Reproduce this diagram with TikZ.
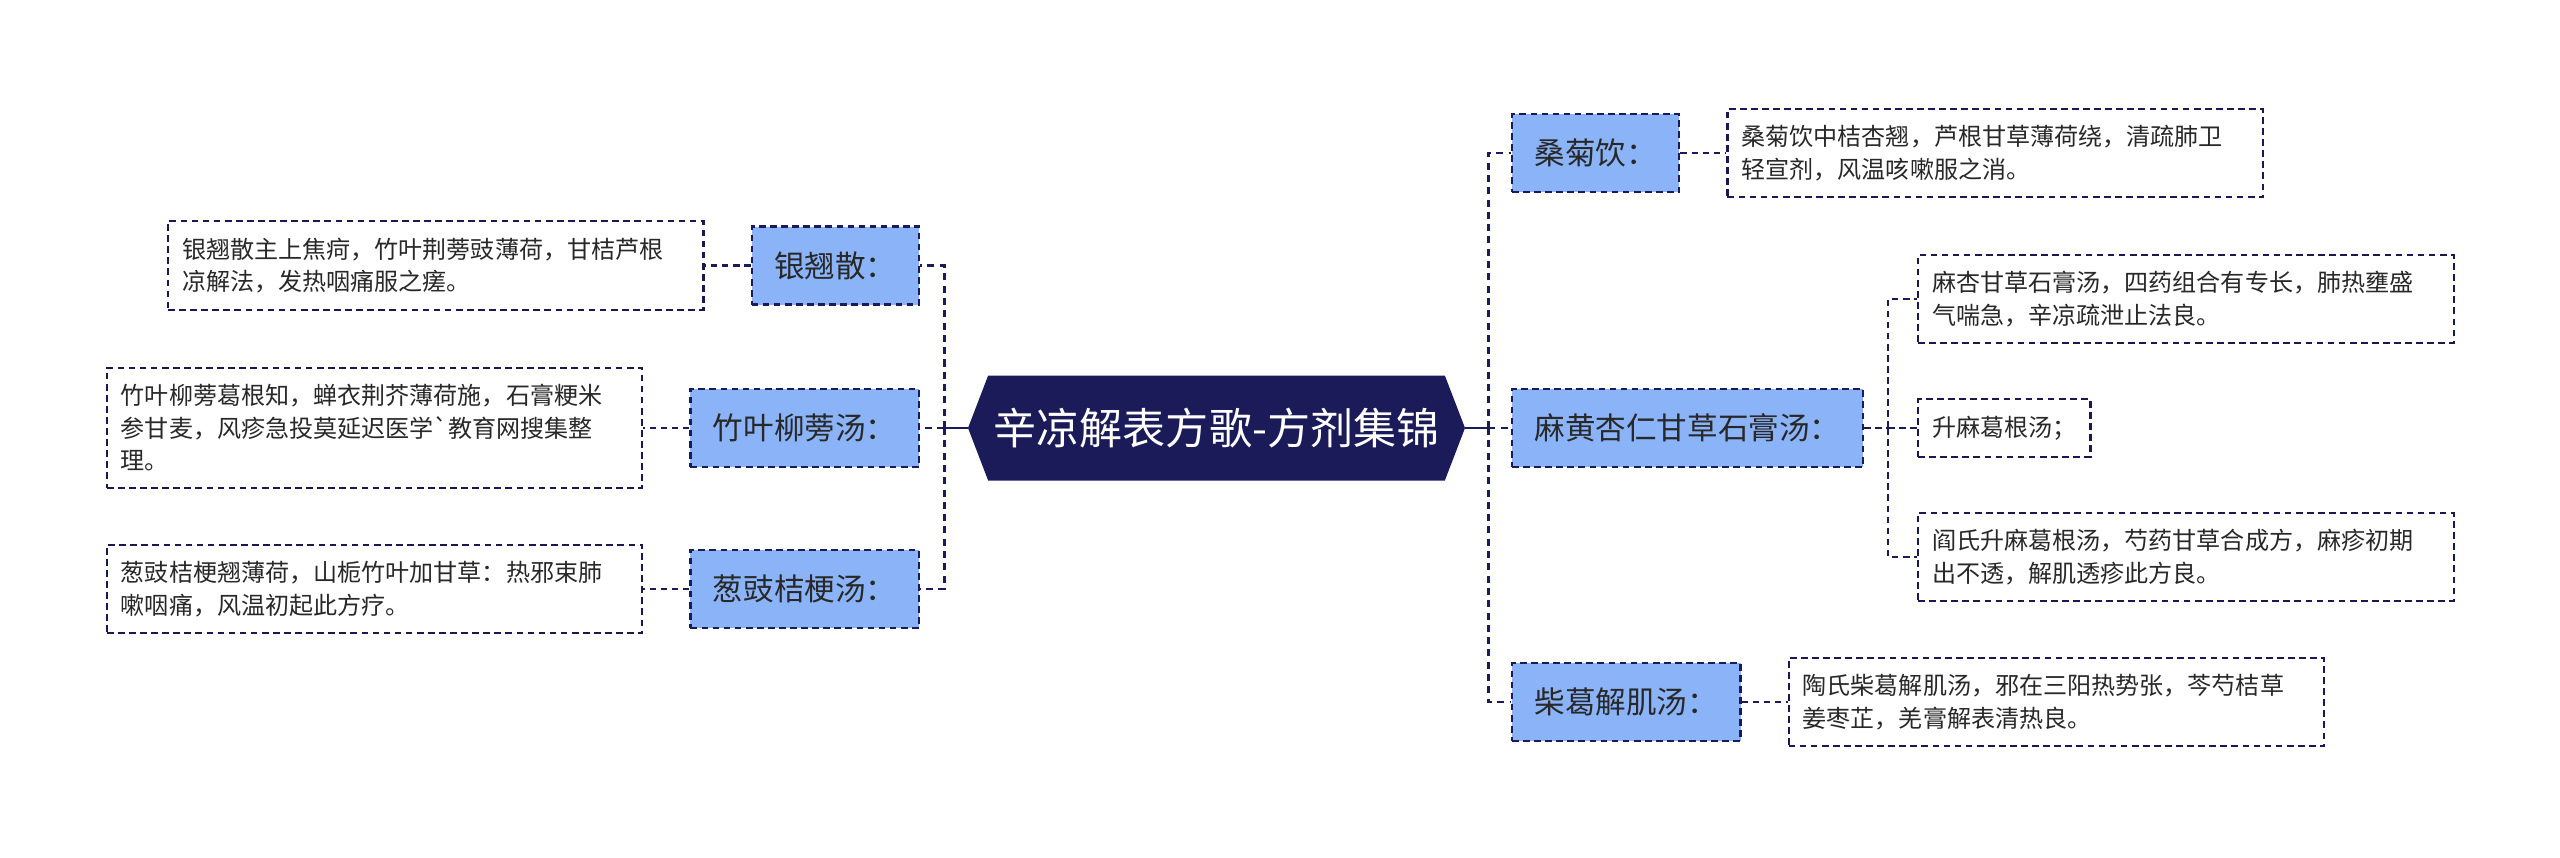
\documentclass[tikz,border=0pt]{standalone}
\usepackage{fontspec}
\setmainfont{Noto Sans CJK SC}
\usepackage{xcolor}
\usepackage{tikz}
\usetikzlibrary{shapes, positioning}

\definecolor{deepnavy}{RGB}{28,27,89}
\definecolor{topicblue}{RGB}{139,180,248}
\definecolor{notetext}{RGB}{40,40,40}

\begin{document}
\begin{tikzpicture}[
    node distance=0.92cm,
    root/.style={signal, signal to=east and west, signal pointer angle=138, fill=deepnavy, text=white, minimum width=9.94cm, minimum height=2.1cm, inner sep=0pt, font=\fontsize{24.5}{29}\selectfont},
    topic/.style={rectangle, draw=deepnavy, dash pattern=on 3.8pt off 2.5pt, line width=1.2pt, fill=topicblue, text=notetext, minimum height=1.56cm, inner xsep=0.45cm, font=\fontsize{17.4}{21}\selectfont},
    note/.style={rectangle, draw=deepnavy!90!black, dash pattern=on 3.8pt off 2.5pt, line width=1.2pt, text=notetext, align=left, inner xsep=0.28cm, inner ysep=0.33cm, font=\fontsize{13.7}{18.5}\selectfont},
    longnote/.style={note, text width=10.15cm},
    stem/.style={deepnavy, line width=1.6pt},
    link/.style={deepnavy, line width=1.6pt, dash pattern=on 4pt off 3pt},
    sublink/.style={deepnavy, line width=1.3pt, dash pattern=on 3.8pt off 2.5pt},
]
\useasboundingbox (0,0) rectangle (51.2,-17.14);

% Root
\node (root) [root] at (24.33,-8.56) {辛凉解表方歌-方剂集锦};

% Left topics
\node (yqs) [topic, anchor=east] at (18.4,-5.31) {银翘散：};
\node (zyl) [topic, anchor=east] at (18.4,-8.56) {竹叶柳蒡汤：};
\node (cjg) [topic, anchor=east] at (18.4,-11.78) {葱豉桔梗汤：};

% Right topics
\node (sjy) [topic, anchor=west] at (30.22,-3.06) {桑菊饮：};
\node (mxs) [topic, anchor=west] at (30.22,-8.56) {麻黄杏仁甘草石膏汤：};
\node (cgj) [topic, anchor=west] at (30.22,-14.04) {柴葛解肌汤：};

% Notes
\node (yqsnote) [longnote, left=of yqs] {银翘散主上焦疴，竹叶荆蒡豉薄荷，甘桔芦根\\凉解法，发热咽痛服之瘥。};
\node (zylnote) [longnote, left=of zyl] {竹叶柳蒡葛根知，蝉衣荆芥薄荷施，石膏粳米\\参甘麦，风疹急投莫延迟医学\textasciigrave 教育网搜集整\\理。};
\node (cjgnote) [longnote, left=of cjg] {葱豉桔梗翘薄荷，山栀竹叶加甘草：热邪束肺\\嗽咽痛，风温初起此方疗。};
\node (sjynote) [longnote, right=of sjy] {桑菊饮中桔杏翘，芦根甘草薄荷绕，清疏肺卫\\轻宣剂，风温咳嗽服之消。};
\node (cgjnote) [longnote, right=of cgj] {陶氏柴葛解肌汤，邪在三阳热势张，芩芍桔草\\姜枣芷，羌膏解表清热良。};
\node (mxsnote1) [longnote, anchor=west] at (38.34,-5.98) {麻杏甘草石膏汤，四药组合有专长，肺热壅盛\\气喘急，辛凉疏泄止法良。};
\node (mxsnote2) [note, anchor=west] at (38.34,-8.56) {升麻葛根汤；};
\node (mxsnote3) [longnote, anchor=west] at (38.34,-11.14) {阎氏升麻葛根汤，芍药甘草合成方，麻疹初期\\出不透，解肌透疹此方良。};

% Trunks
\coordinate (trunkL) at ([xshift=-0.47cm]root.west);
\coordinate (trunkR) at ([xshift=0.46cm]root.east);
\coordinate (subtrunk) at ([xshift=0.48cm]mxs.east);

% Connectors
\draw [stem] (root.west) -- (trunkL);
\draw [stem] (root.east) -- (trunkR);
\draw [link] (trunkL) |- (yqs.east);
\draw [link] (trunkL) -- (zyl.east);
\draw [link] (trunkL) |- (cjg.east);
\draw [link] (trunkR) |- (sjy.west);
\draw [link] (trunkR) -- (mxs.west);
\draw [link] (trunkR) |- (cgj.west);
\draw [sublink] (yqs.west) -- (yqsnote.east);
\draw [sublink] (zyl.west) -- (zylnote.east);
\draw [sublink] (cjg.west) -- (cjgnote.east);
\draw [sublink] (sjy.east) -- (sjynote.west);
\draw [sublink] (cgj.east) -- (cgjnote.west);
\draw [sublink] (mxs.east) -- (subtrunk);
\draw [sublink] (subtrunk) |- (mxsnote1.west);
\draw [sublink] (subtrunk) -- (mxsnote2.west);
\draw [sublink] (subtrunk) |- (mxsnote3.west);

\end{tikzpicture}
\end{document}
